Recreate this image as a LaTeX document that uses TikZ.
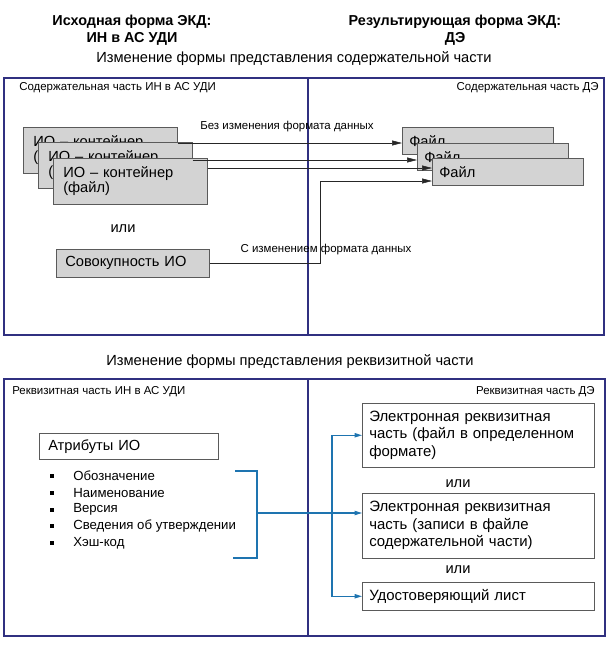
\documentclass[tikz,border=0pt]{standalone}
\usepackage{fontspec}
\setmainfont{Liberation Sans}
\usetikzlibrary{positioning,arrows.meta}
\definecolor{framecol}{RGB}{48,48,128}
\definecolor{boxfill}{RGB}{211,211,211}
\definecolor{boxline}{RGB}{90,90,90}
\definecolor{linkcol}{RGB}{30,116,176}

\begin{document}
\begin{tikzpicture}[x=0.75pt,y=-0.75pt,
  frame/.style={draw=framecol,line width=1.5pt},
  graybox/.style={draw=boxline,fill=boxfill,anchor=north west,align=left,inner ysep=0pt},
  whitebox/.style={draw=boxline,fill=white,anchor=north west,align=left,inner ysep=0pt},
  boxfont/.style={font=\fontsize{11}{11.25}\selectfont},
  tag/.style={font=\fontsize{8.6}{10}\selectfont,inner sep=0pt},
  heading/.style={font=\fontsize{11}{13}\selectfont,inner sep=0pt},
  arr/.style={draw=black!85,-{Triangle[length=7.5pt,width=3.75pt]}},
  link/.style={draw=linkcol,line width=0.8pt},
  linkarr/.style={link,-{Triangle[length=5.5pt,width=3.2pt]}}]
\useasboundingbox (0,0) rectangle (616,650);

% titles
\node[font=\bfseries\fontsize{10.8}{12.75}\selectfont,align=center] (srctitle) at (132,30) {Исходная форма ЭКД:\\ИН в АС УДИ};
\node[font=\bfseries\fontsize{10.8}{12.75}\selectfont,align=center] (dsttitle) at (455,30) {Результирующая форма ЭКД:\\ДЭ};

% content part
\node[heading] (conthead) at (294,59) {Изменение формы представления содержательной части};
\draw[frame] (4,78) rectangle (604,335);
\draw[frame] (308,78) -- (308,335);
\node[tag,anchor=west] (contsrc) at (19,88) {Содержательная часть ИН в АС УДИ};
\node[tag,anchor=east] (contdst) at (599,88) {Содержательная часть ДЭ};

\foreach \i/\x/\y in {1/23/127,2/38/142,3/53/158}
  \node[graybox,boxfont,inner xsep=7.5pt,text width=100.5pt,minimum height=34.5pt] (io\i) at (\x,\y) {ИО – контейнер\\(файл)};
\foreach \i/\x/\y in {1/402/127,2/417/143,3/432/158}
  \node[graybox,boxfont,inner xsep=5.25pt,text width=102.75pt,minimum height=20.25pt] (file\i) at (\x,\y) {Файл};

\node[heading] (or1) at (123,229) {или};
\node[graybox,boxfont,inner xsep=6.75pt,text width=101.25pt,minimum height=21pt] (set) at (56,249) {Совокупность ИО};

\coordinate (row1) at (0,143);
\coordinate (row2) at (0,160);
\coordinate (row3) at (0,168);
\coordinate (bend) at (320,181);
\draw[arr] (io1.east |- row1) -- (file1.west |- row1);
\draw[arr] (io2.east |- row2) -- (file2.west |- row2);
\draw[arr] (io3.east |- row3) -- (file3.west |- row3);
\draw[arr] (set.east) -| (bend) -- (file3.west |- bend);
\node[tag] (keep) at (287,127) {Без изменения формата данных};
\node[tag] (conv) at (326,250) {С изменением формата данных};

% requisite part
\node[heading] (reqhead) at (290,362) {Изменение формы представления реквизитной части};
\draw[frame] (4,379) rectangle (605,636);
\draw[frame] (308,379) -- (308,636);
\node[tag,anchor=west] (reqsrc) at (12,392) {Реквизитная часть ИН в АС УДИ};
\node[tag,anchor=east] (reqdst) at (595,392) {Реквизитная часть ДЭ};

\node[whitebox,boxfont,inner xsep=6.75pt,text width=120.75pt,minimum height=19.5pt] (attrs) at (39,433) {Атрибуты ИО};
\foreach \attr [count=\i] in {Обозначение,Наименование,Версия,Сведения об утверждении,Хэш-код} {
  \node[fill=black,inner sep=1.5pt] (dot\i) at (52,{459.25+16.75*\i}) {};
  \node[font=\fontsize{9.9}{12}\selectfont,inner sep=0pt,anchor=west] (attr\i) at (73,{459.25+16.75*\i}) {\attr};
}

\node[whitebox,boxfont,inner xsep=5.25pt,text width=163.5pt,minimum height=48pt,font=\fontsize{11.2}{13.1}\selectfont] (req1) at (362,403) {Электронная реквизитная\\часть (файл в определенном\\формате)};
\node[heading] (or2) at (458,484) {или};
\node[whitebox,inner xsep=5.25pt,text width=163.5pt,minimum height=48.75pt,font=\fontsize{11.2}{13.1}\selectfont] (req2) at (362,493) {Электронная реквизитная\\часть (записи в файле\\содержательной части)};
\node[heading] (or3) at (458,570) {или};
\node[whitebox,inner xsep=5.25pt,text width=163.5pt,minimum height=21pt,font=\fontsize{11.2}{13.1}\selectfont] (req3) at (362,582) {Удостоверяющий лист};

\coordinate (brtop) at (235,471);
\coordinate (brmid) at (257,513);
\coordinate (brbot) at (233,558);
\coordinate (fork) at (332,513);
\draw[link] (brtop) -| (brmid) |- (brbot);
\draw[linkarr] (brmid) -- (req2.west |- brmid);
\draw[linkarr] (fork) |- (req1.west);
\draw[linkarr] (fork) |- (req3.west);
\end{tikzpicture}
\end{document}
